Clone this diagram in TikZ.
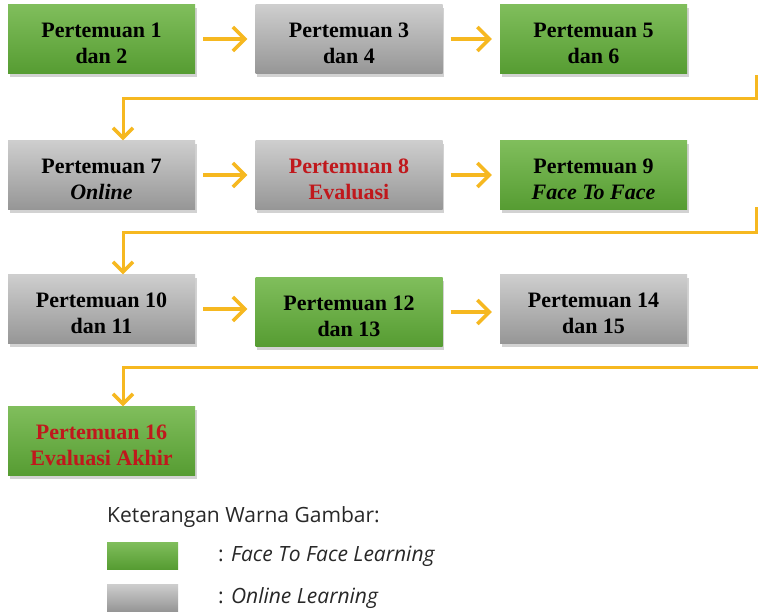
\documentclass[tikz,border=0pt]{standalone}
\usepackage{fontspec}
\setmainfont{Liberation Serif}
\newfontfamily\legendfont{Open Sans}
\usetikzlibrary{arrows.meta,shadows}

\definecolor{ffTop}{RGB}{128,190,92}
\definecolor{ffBot}{RGB}{86,156,50}
\definecolor{olTop}{RGB}{206,206,206}
\definecolor{olBot}{RGB}{150,150,150}
\definecolor{flow}{RGB}{246,184,32}
\definecolor{evalred}{RGB}{192,24,28}
\definecolor{legendtext}{RGB}{40,40,40}

% two centred lines, set a little below the middle of the box
\newcommand\twolines[2]{\begin{tabular}{@{}c@{}}\rule{0pt}{30pt}#1\\#2\end{tabular}}

\begin{document}
\begin{tikzpicture}[x=1pt,y=-1pt,
  meet/.style={minimum width=187pt,minimum height=69pt,inner sep=0pt,
    font=\bfseries\fontsize{22}{26}\selectfont,
    drop shadow={shadow xshift=1.5pt,shadow yshift=-3pt,opacity=0.35}},
  f2f/.style={meet,top color=ffTop,bottom color=ffBot},
  onl/.style={meet,top color=olTop,bottom color=olBot},
  evaltext/.style={text=evalred},
  flowarrow/.style={draw=flow,line width=4pt,-{Straight Barb[length=12pt,width=24pt,line width=3.5pt]}},
  flowline/.style={draw=flow,line width=3pt,-{Straight Barb[length=10pt,width=20pt,line width=3.5pt]}},
  swatch/.style={minimum width=71pt,minimum height=27pt,inner sep=0pt},
  legendlabel/.style={anchor=west,inner sep=0pt,text=legendtext,font=\legendfont\fontsize{21}{24}\selectfont}
]
\useasboundingbox[fill=white] (0,0) rectangle (758,613);

% row 1
\node[f2f] (m1) at (101.5,39) {\twolines{Pertemuan 1}{dan 2}};
\node[onl] (m3) at (349,39) {\twolines{Pertemuan 3}{dan 4}};
\node[f2f] (m5) at (593.5,39) {\twolines{Pertemuan 5}{dan 6}};

% row 2
\node[onl] (m7) at (101.5,175) {\twolines{Pertemuan 7}{\textit{Online}}};
\node[onl,evaltext] (m8) at (349,175) {\twolines{Pertemuan 8}{Evaluasi}};
\node[f2f] (m9) at (593.5,175) {\twolines{Pertemuan 9}{\textit{Face To Face}}};

% row 3
\node[onl] (m10) at (101.5,309) {\twolines{Pertemuan 10}{dan 11}};
\node[f2f] (m12) at (349,312) {\twolines{Pertemuan 12}{dan 13}};
\node[onl] (m14) at (593.5,309) {\twolines{Pertemuan 14}{dan 15}};

% row 4
\node[f2f,evaltext] (m16) at (101.5,441) {\twolines{Pertemuan 16}{Evaluasi Akhir}};

% arrows within a row, kept horizontal
\foreach \a/\b in {m1/m3,m3/m5,m7/m8,m8/m9,m10/m12,m12/m14}
  \draw[flowarrow] ([xshift=8pt]\a.east) -- ([xshift=-8pt]\a.east -| \b.west);

% returns to the next row
\coordinate (ret1) at (756,75);
\coordinate (turn1) at (123,98);
\coordinate (ret2) at (756,207);
\coordinate (turn2) at (123,232);
\coordinate (ret3) at (760,367);
\coordinate (turn3) at (123,367);
\draw[flowline] (ret1) |- (turn1) -- (turn1 |- m7.north);
\draw[flowline] (ret2) |- (turn2) -- (turn2 |- m10.north);
\draw[flowline] (ret3) -- (turn3) -- (turn3 |- m16.north);

% legend
\node[legendlabel] (title) at (107,517) {Keterangan Warna Gambar:};
\node[swatch,top color=ffTop,bottom color=ffBot] (swf) at (142.5,555.5) {};
\node[swatch,top color=olTop,bottom color=olBot] (swo) at (142.5,597.5) {};
\node[legendlabel] (lf) at (218,556) {: \textit{Face To Face Learning}};
\node[legendlabel] (lo) at (218,598) {: \textit{Online Learning}};
\end{tikzpicture}
\end{document}
